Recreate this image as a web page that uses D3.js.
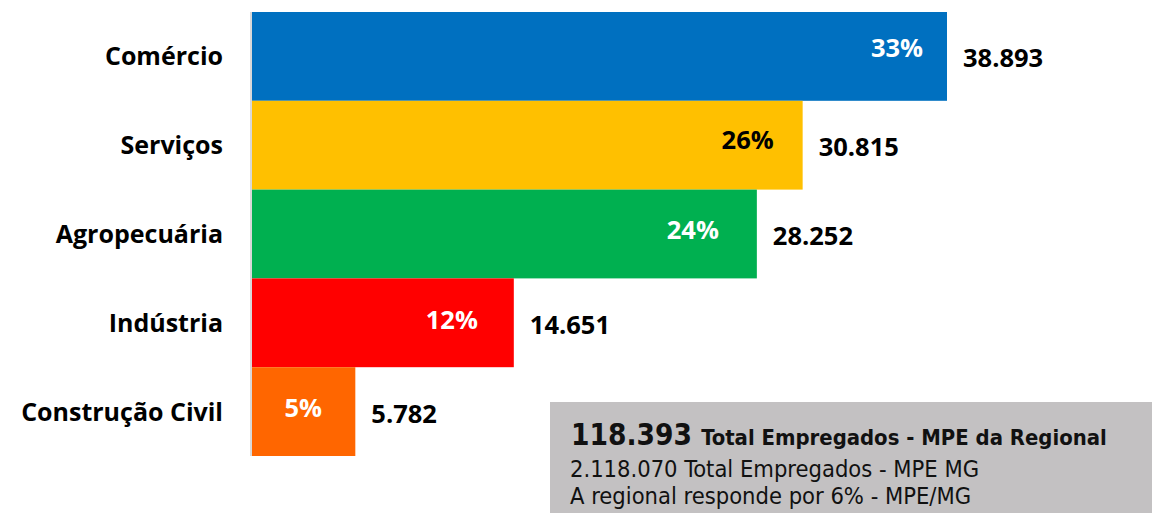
<!DOCTYPE html>
<html>
<head>
<meta charset="utf-8">
<script src="https://cdn.jsdelivr.net/npm/d3@7"></script>
<style>
  body { margin: 0; background: #fff; }
  svg { display: block; }
</style>
</head>
<body>
<svg id="chart" width="1152" height="513"></svg>
<script>
// data
var categories = ["Comércio", "Serviços", "Agropecuária", "Indústria", "Construção Civil"]
var values = [38893, 30815, 28252, 14651, 5782]
var valueLabels = ["38.893", "30.815", "28.252", "14.651", "5.782"]
var pctLabels = ["33%", "26%", "24%", "12%", "5%"]
var barColors = ["#0070c0", "#ffc000", "#00b050", "#ff0000", "#ff6600"]
var pctColors = ["#fff", "#000", "#fff", "#fff", "#fff"]
var summaryTotal = "118.393"
var summaryLines = [
    "Total Empregados - MPE da Regional",
    "2.118.070 Total Empregados - MPE MG",
    "A regional responde por 6% - MPE/MG"
]

// layout of the % labels (as placed by hand in the original)
var pctInset = [50, 55, 64, 62, 52]
var pctDy = [0.5, 3.5, 4.5, 6, 5.5]

var svg = d3.select("#chart")
var labelFont = "'Open Sans', sans-serif"
var boxFont = "'DejaVu Sans Condensed', 'DejaVu Sans', sans-serif"

var rows = categories.map(function(c, i) { return { cat: c, value: values[i], i: i } })

var x = d3.scaleLinear()
    .domain([0, d3.max(values)])
    .range([252, 947])

var y = d3.scaleBand()
    .domain(categories)
    .range([12, 456])
    .padding(0)

//bars
svg.append("g")
    .selectAll("rect")
    .data(rows)
    .enter().append("rect")
    .attr("x", x(0))
    .attr("y", function(d) { return y(d.cat) })
    .attr("width", function(d) { return x(d.value) - x(0) })
    .attr("height", y.bandwidth())
    .attr("fill", function(d) { return barColors[d.i] })

//axis line
svg.append("line")
    .attr("x1", x(0) - 1).attr("x2", x(0) - 1)
    .attr("y1", y.range()[0]).attr("y2", y.range()[1])
    .style("stroke", "#d9d9d9")
    .style("stroke-width", 2)

//category labels
svg.append("g")
    .selectAll("text")
    .data(rows)
    .enter().append("text")
    .attr("x", 223)
    .attr("y", function(d) { return y(d.cat) + y.bandwidth() / 2 + 9 })
    .attr("text-anchor", "end")
    .style("font-family", labelFont)
    .style("font-weight", "bold")
    .style("font-size", "25px")
    .text(function(d) { return d.cat })

//value labels
svg.append("g")
    .selectAll("text")
    .data(rows)
    .enter().append("text")
    .attr("x", function(d) { return x(d.value) + 16 })
    .attr("y", function(d) { return y(d.cat) + y.bandwidth() / 2 + 11 })
    .style("font-family", labelFont)
    .style("font-weight", "bold")
    .style("font-size", "25.5px")
    .text(function(d) { return valueLabels[d.i] })

//percent labels
svg.append("g")
    .selectAll("text")
    .data(rows)
    .enter().append("text")
    .attr("x", function(d) { return x(d.value) - pctInset[d.i] })
    .attr("y", function(d) { return y(d.cat) + y.bandwidth() / 2 + pctDy[d.i] })
    .attr("text-anchor", "middle")
    .style("font-family", labelFont)
    .style("font-weight", "bold")
    .style("font-size", "25.5px")
    .style("fill", function(d) { return pctColors[d.i] })
    .text(function(d) { return pctLabels[d.i] })

//summary box
var box = svg.append("g")
box.append("rect")
    .attr("x", 550).attr("y", 402)
    .attr("width", 602).attr("height", 111)
    .attr("fill", "#c3c1c2")

var line1 = box.append("text")
    .attr("x", 571).attr("y", 445)
    .style("font-family", boxFont)
    .style("fill", "#111")
line1.append("tspan")
    .style("font-weight", "bold")
    .style("font-size", "29.5px")
    .text(summaryTotal + " ")
line1.append("tspan")
    .style("font-weight", "bold")
    .style("font-size", "21.9px")
    .text(summaryLines[0])

box.append("text")
    .attr("x", 570).attr("y", 477)
    .style("font-family", boxFont)
    .style("font-size", "23.5px")
    .style("fill", "#111")
    .text(summaryLines[1])

box.append("text")
    .attr("x", 570).attr("y", 503.5)
    .style("font-family", boxFont)
    .style("font-size", "23.5px")
    .style("fill", "#111")
    .text(summaryLines[2])
</script>
</body>
</html>
